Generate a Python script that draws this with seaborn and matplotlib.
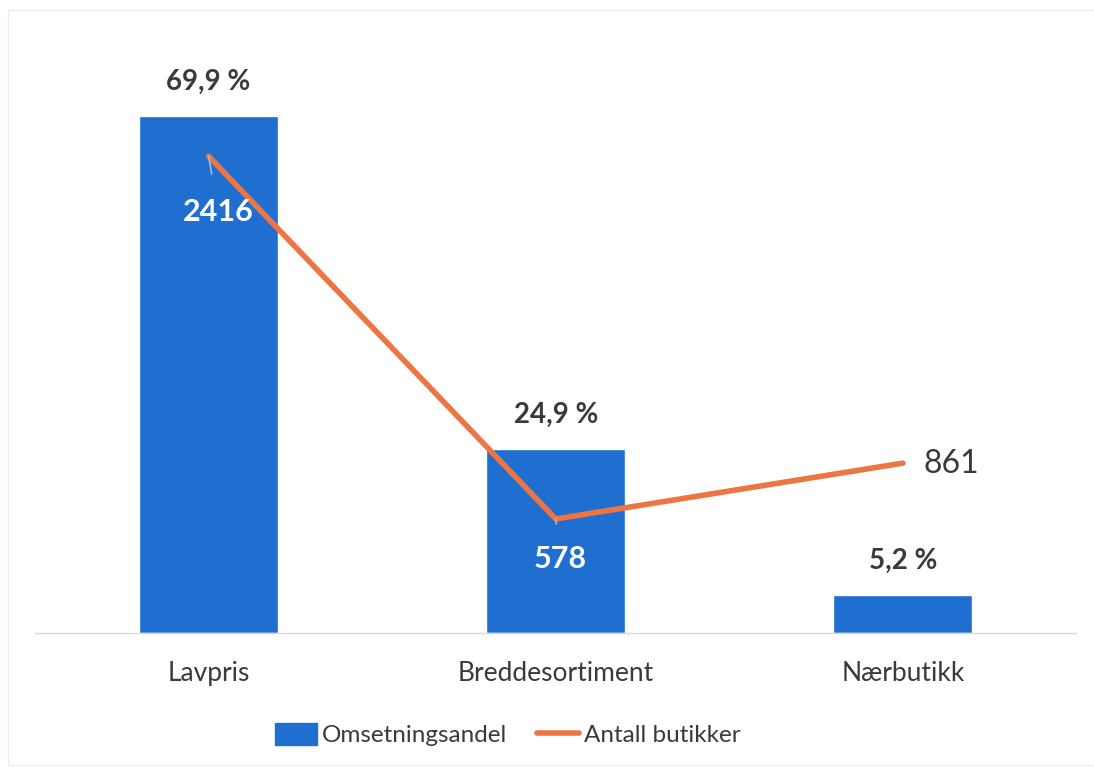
import matplotlib
matplotlib.use("Agg")
import matplotlib.pyplot as plt
import seaborn as sns
import pandas as pd
from matplotlib.patches import Patch, Rectangle
from matplotlib.lines import Line2D

categories = ["Lavpris", "Breddesortiment", "Nærbutikk"]
share_pct = [69.9, 24.9, 5.2]
share_labels = ["69,9 %", "24,9 %", "5,2 %"]
store_counts = [2416, 578, 861]

BLUE = "#1f6fd0"
ORANGE = "#ec7543"
TEXT = "#3a3a3a"

sns.set_theme(style="white")
plt.rcParams["font.family"] = ["Lato", "DejaVu Sans"]

df = pd.DataFrame({"cat": categories, "share": share_pct, "stores": store_counts,
                   "pos": range(len(categories))})

fig = plt.figure(figsize=(10.94, 7.67), dpi=100)
# faint chart-area border
fig.patches.append(Rectangle((8 / 1094, 2 / 767), 1.2, (767 - 12) / 767,
                             transform=fig.transFigure, fill=False,
                             edgecolor="#ececec", linewidth=1.0))

ax = fig.add_axes([0.032, 0.1747, 0.952, 0.7718])
sns.barplot(data=df, x="cat", y="share", color=BLUE, saturation=1, width=0.4, ax=ax)
ax.set_ylim(0, 80)
ax.set_xlim(-0.5, 2.5)
ax.set_xlabel("")
ax.set_ylabel("")
ax.set_yticks([])
for s in ["top", "right", "left"]:
    ax.spines[s].set_visible(False)
ax.spines["bottom"].set_color("#d9d9d9")
ax.spines["bottom"].set_linewidth(1.0)
ax.tick_params(axis="x", length=0, pad=20, labelsize=19, labelcolor=TEXT)

for i, (v, lab) in enumerate(zip(share_pct, share_labels)):
    ax.annotate(lab, (i, v), xytext=(0, 15), textcoords="offset points",
                ha="center", va="bottom", fontsize=20, fontweight="bold", color=TEXT)

ax2 = ax.twinx()
sns.lineplot(data=df, x="pos", y="stores", color=ORANGE, linewidth=4, ax=ax2,
             solid_capstyle="round")
ax2.set_ylim(0, 3000)
ax2.set_xlim(-0.5, 2.5)
ax2.set_yticks([])
ax2.set_ylabel("")
ax2.set_xlabel("")
for s in ["top", "right", "left", "bottom"]:
    ax2.spines[s].set_visible(False)

# data labels for store counts
ax2.annotate(str(store_counts[0]), (0, store_counts[0]), xytext=(7, -40),
             textcoords="offset points", ha="center", va="center",
             fontsize=22, fontweight="bold", color="white",
             arrowprops=dict(arrowstyle="-", color="#a9b8c8", lw=1.2, shrinkA=15, shrinkB=0))
ax2.annotate(str(store_counts[1]), (1, store_counts[1]), xytext=(3, -29),
             textcoords="offset points", ha="center", va="center",
             fontsize=22, fontweight="bold", color="white",
             arrowprops=dict(arrowstyle="-", color="#a9b8c8", lw=1.2, shrinkA=13, shrinkB=0))
ax2.annotate(str(store_counts[2]), (2, store_counts[2]), xytext=(15, -1),
             textcoords="offset points", ha="left", va="center",
             fontsize=23, color=TEXT)

handles = [Patch(facecolor=BLUE, edgecolor=BLUE),
           Line2D([0], [0], color=ORANGE, lw=4)]
fig.legend(handles, ["Omsetningsandel", "Antall butikker"], loc="center",
           bbox_to_anchor=(0.464, 0.042), ncol=2, frameon=False, fontsize=17.5,
           labelcolor=TEXT, handlelength=1.75, handleheight=1.0, handletextpad=0.2,
           columnspacing=1.2)

fig.savefig("out.png", dpi=100, facecolor="white")
